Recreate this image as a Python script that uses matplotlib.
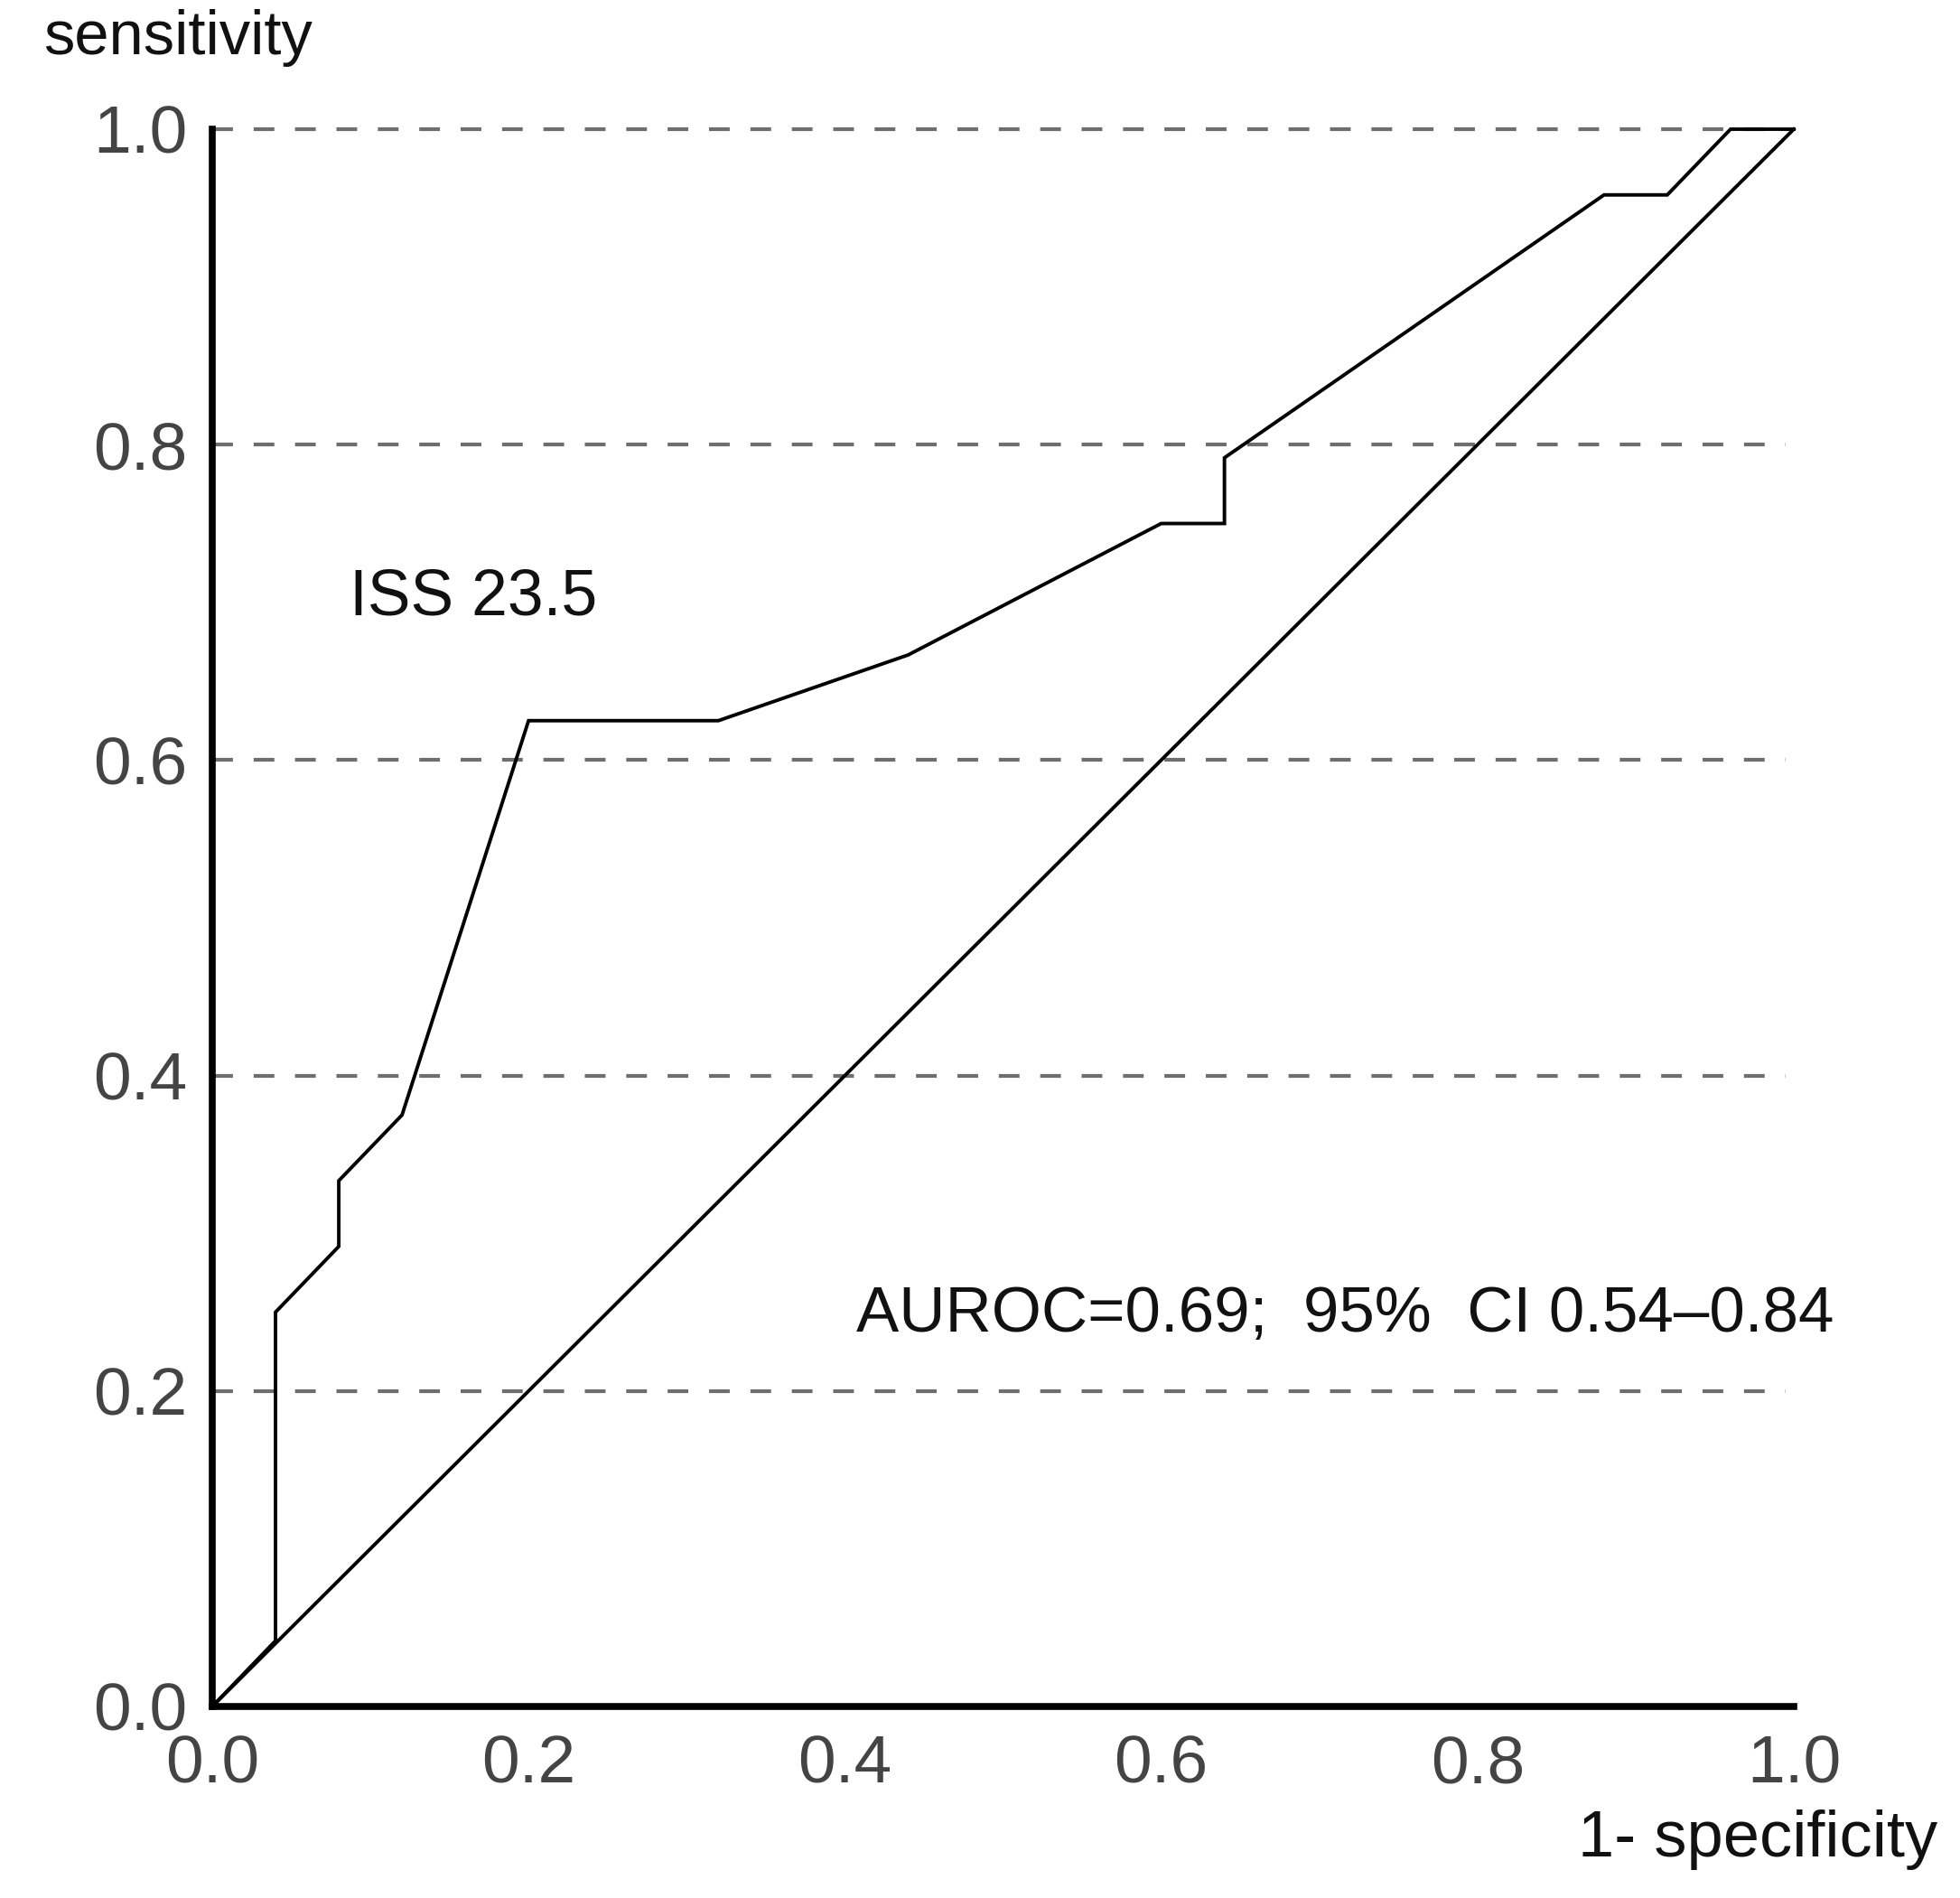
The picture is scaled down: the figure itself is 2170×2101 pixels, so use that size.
import matplotlib
matplotlib.use("Agg")
import matplotlib.pyplot as plt

# ROC curve vertices (1 - specificity, sensitivity)
fpr = [0.0, 0.04, 0.04, 0.08, 0.08, 0.12, 0.20, 0.32, 0.44, 0.60, 0.64, 0.64, 0.88, 0.92, 0.96, 1.0]
tpr = [0.0, 1/24, 6/24, 7/24, 8/24, 9/24, 15/24, 15/24, 16/24, 18/24, 18/24, 19/24, 23/24, 23/24, 1.0, 1.0]
ref_x = [0.0, 1.0]
ref_y = [0.0, 1.0]
ticks = [0.0, 0.2, 0.4, 0.6, 0.8, 1.0]
tick_labels = ["0.0", "0.2", "0.4", "0.6", "0.8", "1.0"]
grid_levels = [0.2, 0.4, 0.6, 0.8, 1.0]
label_iss = "ISS 23.5"
label_auc = "AUROC=0.69;  95%  CI 0.54\u20130.84"

plt.rcParams['font.family'] = ['Liberation Sans', 'DejaVu Sans']

W, H = 2170, 2101
fig = plt.figure(figsize=(W/100, H/100), dpi=100)
ax = fig.add_axes([235/W, 1 - 1889/H, (1986-235)/W, (1889-143)/H])
ax.set_xlim(0, 1)
ax.set_ylim(0, 1)

for g in grid_levels:
    ax.plot([0, 0.995], [g, g], color="#6e6e6e", lw=3.0, linestyle=(0, (5.5, 5.5)),
            clip_on=False, zorder=1)

ax.plot(ref_x, ref_y, color="black", lw=2.8, zorder=3, clip_on=False)
ax.plot(fpr, tpr, color="black", lw=2.8, zorder=3, clip_on=False, solid_joinstyle="miter")

for s in ["top", "right"]:
    ax.spines[s].set_visible(False)
for s in ["left", "bottom"]:
    ax.spines[s].set_linewidth(5.5)
    ax.spines[s].set_color("black")
    ax.spines[s].set_zorder(4)

ax.set_xticks(ticks)
ax.set_xticklabels(tick_labels)
ax.set_yticks(ticks)
ax.set_yticklabels(tick_labels)
ax.tick_params(axis="both", length=0, labelsize=54, labelcolor="#444444")
ax.tick_params(axis="x", pad=22)
ax.tick_params(axis="y", pad=20)

ax.text(0.087, 0.703, label_iss, fontsize=51.5, color="#111111", ha="left", va="center")
ax.text(0.407, 0.248, label_auc, fontsize=51, color="#111111", ha="left", va="center")

fig.text(48/W, 1 - 42/H, "sensitivity", fontsize=49.5, color="#111111", ha="left", va="center")
fig.text(2145/W, 1 - 2037/H, "1- specificity", fontsize=52, color="#111111", ha="right", va="center")

fig.savefig("out.png", dpi=100, facecolor="white")
